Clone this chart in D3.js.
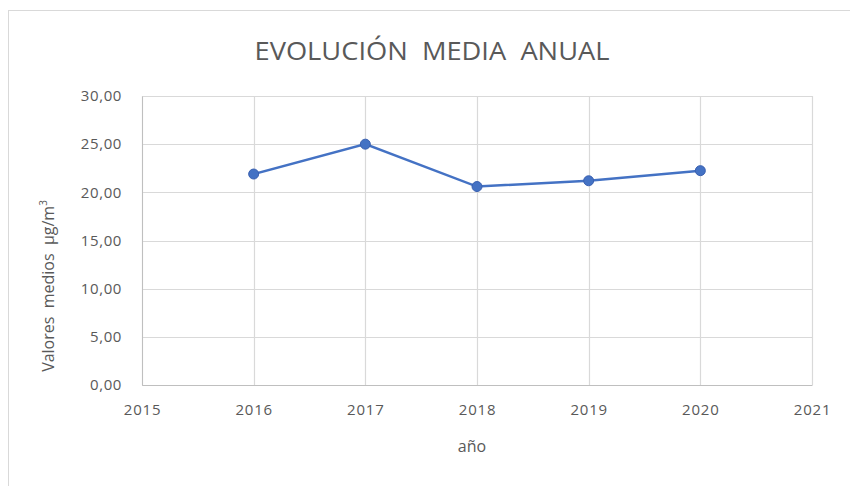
<!DOCTYPE html>
<html>
<head>
  <meta charset="UTF-8">
  <style>
    body { margin: 0; background: #fff; }
    text { font-family: "Open Sans", "Liberation Sans", sans-serif; fill: #595959; }
  </style>
</head>
<body>
<div id="chart_div"></div>

<script src="https://d3js.org/d3.v7.min.js"></script>
<script>

// data
const years = [2016, 2017, 2018, 2019, 2020];
const valores = [21.9, 25.0, 20.6, 21.2, 22.25];
const yTicks = [0, 5, 10, 15, 20, 25, 30];
const xTicks = [2015, 2016, 2017, 2018, 2019, 2020, 2021];

let width = 850, height = 486;
const margin = {left: 142, right: 38, top: 96, bottom: 101};

let svg = d3.select("#chart_div")
    .append("svg")
    .attr("width", width)
    .attr("height", height)

// chart frame
svg.append("rect")
    .attr("x", 8.5)
    .attr("y", 10.5)
    .attr("width", width)
    .attr("height", height)
    .attr("fill", "white")
    .attr("stroke", "#d9d9d9")

var x = d3.scaleLinear()
    .domain([2015, 2021])
    .range([margin.left, width - margin.right]);
var y = d3.scaleLinear()
    .domain([0, 30])
    .range([height - margin.bottom, margin.top]);

// gridlines
svg.append("g")
    .selectAll("line.h")
    .data(yTicks)
    .enter()
    .append("line")
    .attr("x1", x(2015))
    .attr("x2", x(2021))
    .attr("y1", d => Math.round(y(d)) + 0.5)
    .attr("y2", d => Math.round(y(d)) + 0.5)
    .attr("stroke", "#d9d9d9")
    .attr("stroke-width", 1.2)
svg.append("g")
    .selectAll("line.v")
    .data(xTicks)
    .enter()
    .append("line")
    .attr("x1", d => Math.round(x(d)) + 0.5)
    .attr("x2", d => Math.round(x(d)) + 0.5)
    .attr("y1", y(30))
    .attr("y2", y(0))
    .attr("stroke", "#d9d9d9")
    .attr("stroke-width", 1.2)

// axes
let yAxis = d3.axisLeft(y)
    .tickValues(yTicks)
    .tickSize(0)
    .tickPadding(20)
    .tickFormat(d => d3.format(".2f")(d).replace(".", ","));
svg.append("g")
    .attr("transform", `translate(${x(2015)},0)`)
    .call(yAxis)
    .call(g => g.select(".domain").attr("stroke", "#bfbfbf"))
    .selectAll("text")
    .style("font-size", "15px")
    .style("letter-spacing", "0.6px")
    .attr("fill", "#595959")

let xAxis = d3.axisBottom(x)
    .tickValues(xTicks)
    .tickSize(0)
    .tickPadding(19)
    .tickFormat(d3.format("d"));
svg.append("g")
    .attr("transform", `translate(0,${y(0)})`)
    .call(xAxis)
    .call(g => g.select(".domain").attr("stroke", "#bfbfbf"))
    .selectAll("text")
    .style("font-size", "15px")
    .style("letter-spacing", "0.8px")
    .attr("fill", "#595959")

// titles
svg.append("text")
    .attr("x", 432)
    .attr("y", 60)
    .attr("text-anchor", "middle")
    .attr("textLength", 355)
    .attr("lengthAdjust", "spacingAndGlyphs")
    .style("font-size", "25px")
    .style("white-space", "pre")
    .text("EVOLUCIÓN  MEDIA  ANUAL")

svg.append("text")
    .attr("x", 472)
    .attr("y", 452)
    .attr("text-anchor", "middle")
    .style("font-size", "16px")
    .text("año")

svg.append("text")
    .attr("transform", "translate(54,286) rotate(-90)")
    .attr("text-anchor", "middle")
    .style("font-size", "16px")
    .style("white-space", "pre")
    .html('Valores  medios  µg/m<tspan dy="-7" style="font-size:10px">3</tspan>')

// series
let line = d3.line()
    .x((d, i) => x(years[i]))
    .y(d => y(d));
svg.append("path")
    .datum(valores)
    .attr("d", line)
    .attr("fill", "none")
    .attr("stroke", "#4472c4")
    .attr("stroke-width", 2.5)

svg.append("g")
    .selectAll("circle")
    .data(valores)
    .enter()
    .append("circle")
    .attr("cx", (d, i) => x(years[i]))
    .attr("cy", d => y(d))
    .attr("r", 5)
    .attr("fill", "#4472c4")
    .attr("stroke", "#3a60b0")

</script>

</body>
</html>
